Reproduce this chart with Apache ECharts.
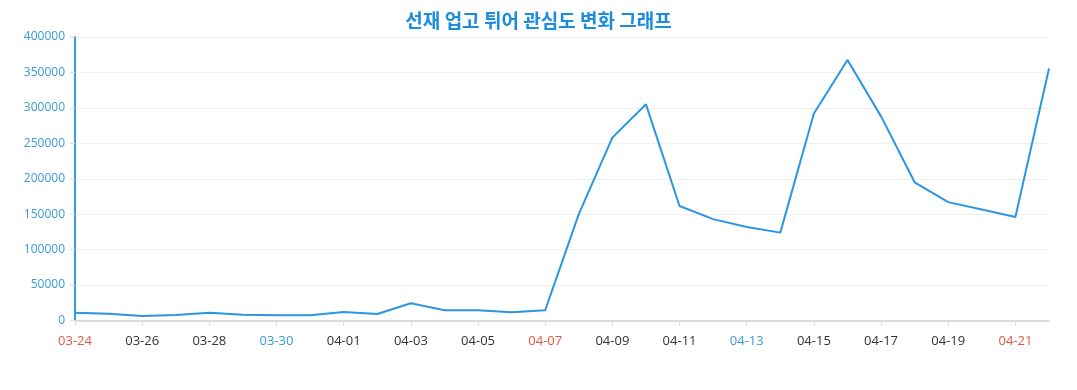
<!DOCTYPE html>
<html>
<head>
<meta charset="utf-8">
<script src="https://cdn.jsdelivr.net/npm/echarts@6/dist/echarts.min.js"></script>
<style>
html,body{margin:0;padding:0;background:#fff;}
#chart{width:1077px;height:390px;}
</style>
</head>
<body>
<div id="chart"></div>
<script>
const titleText = '선재 업고 튀어 관심도 변화 그래프';
const categories = ['03-24','03-25','03-26','03-27','03-28','03-29','03-30','03-31','04-01','04-02','04-03','04-04','04-05','04-06','04-07','04-08','04-09','04-10','04-11','04-12','04-13','04-14','04-15','04-16','04-17','04-18','04-19','04-20','04-21','04-22'];
const values = [11000,9600,6300,7800,11000,8200,7300,7300,12000,9200,24300,14400,14400,11500,14400,150000,258000,305000,161500,143000,132000,124000,292000,367500,288000,195000,167000,156500,146000,355500];
const redLabels = ['03-24','04-07','04-21'];
const blueLabels = ['03-30','04-13'];

const chart = echarts.init(document.getElementById('chart'), null, {renderer:'canvas'});
const font = '"Open Sans","Noto Sans","Noto Sans CJK KR",sans-serif';
chart.setOption({
  animation:false,
  title:{
    text:titleText, left:'center', top:6,
    textStyle:{color:'#1a8de0', fontSize:19, fontWeight:'bold', fontFamily:'"Noto Sans CJK KR",sans-serif'}
  },
  grid:{left:75, right:28, top:37, bottom:69.5, containLabel:false},
  xAxis:{
    type:'category', data:categories, boundaryGap:false,
    axisLine:{lineStyle:{color:'#dcdcdc', width:2}},
    axisTick:{show:true, alignWithLabel:true, lineStyle:{color:'#dcdcdc'}},
    axisLabel:{
      interval:1, margin:14, fontSize:13, fontFamily:font,
      color:function(v){ return redLabels.includes(v) ? '#e2583e' : (blueLabels.includes(v) ? '#3a9ad9' : '#333'); }
    },
    splitLine:{show:false}
  },
  yAxis:{
    type:'value', min:0, max:400000, interval:50000,
    axisLine:{show:true, lineStyle:{color:'#3a9ad9', width:2}},
    axisTick:{show:true, lineStyle:{color:'#dcdcdc'}},
    axisLabel:{color:'#3a9ad9', fontSize:12, fontFamily:font, margin:10, formatter:function(v){return String(v);}},
    splitLine:{lineStyle:{color:'#f0f0f0'}}
  },
  series:[{
    type:'line', data:values, showSymbol:false, symbol:'none',
    lineStyle:{color:'#2b95e3', width:2},
    itemStyle:{color:'#2b95e3'}
  }]
});
</script>
</body>
</html>
